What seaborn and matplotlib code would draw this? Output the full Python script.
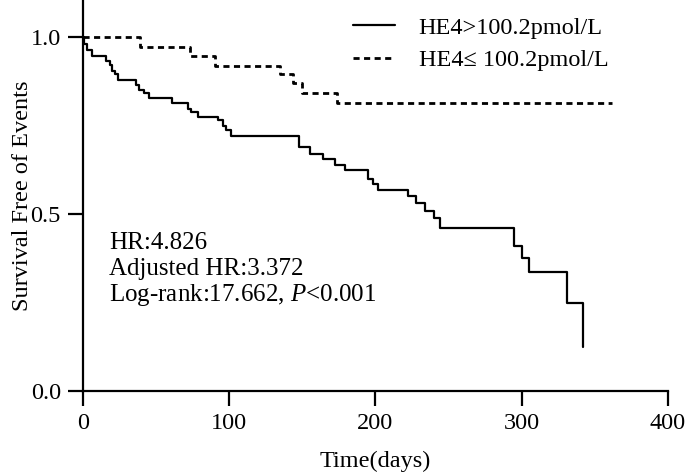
import numpy as np
import pandas as pd
import seaborn as sns
import matplotlib.pyplot as plt

# Kaplan-Meier step points (time in days, survival)
high_time = [0, 1, 2.5, 6, 16, 18.5, 20, 22, 24, 36, 38, 42, 45, 61, 72, 74, 78.5,
             92, 96, 98, 101, 148, 155, 164, 172, 179, 195, 198, 202,
             222, 228, 234, 240, 244, 295, 300, 305, 331, 342]
high_surv = [1.0, 0.981, 0.965, 0.946, 0.933, 0.921, 0.905, 0.895, 0.880, 0.864, 0.850, 0.841, 0.827,
             0.815, 0.798, 0.789, 0.775, 0.766, 0.749, 0.737, 0.722, 0.690, 0.671, 0.657,
             0.640, 0.624, 0.600, 0.585, 0.568, 0.550, 0.530, 0.510, 0.490, 0.460,
             0.410, 0.375, 0.336, 0.250, 0.125]

low_time = [0, 39, 73, 90, 135, 143.5, 150, 174, 362]
low_surv = [1.0, 0.973, 0.946, 0.919, 0.895, 0.870, 0.842, 0.814, 0.814]

labels = ['HE4>100.2pmol/L', 'HE4\u2264 100.2pmol/L']
x_ticks = [0, 100, 200, 300, 400]
y_ticks = [0.0, 0.5, 1.0]
stats_lines = ['HR:4.826', 'Adjusted HR:3.372', 'Log-rank:17.662, $\\mathit{P}$<0.001']

sns.set_theme(style='ticks')
plt.rcParams['font.family'] = ['Liberation Serif', 'DejaVu Serif']
plt.rcParams['mathtext.fontset'] = 'custom'
plt.rcParams['mathtext.rm'] = 'Liberation Serif'
plt.rcParams['mathtext.it'] = 'Liberation Serif:italic'
plt.rcParams['text.color'] = 'black'
plt.rcParams['axes.labelcolor'] = 'black'

high_df = pd.DataFrame({'Time': high_time, 'Survival': high_surv})
low_df = pd.DataFrame({'Time': low_time, 'Survival': low_surv})

fig = plt.figure(figsize=(6.85, 4.73), dpi=100)
ax = fig.add_axes([0.1212, 0.1734, 0.8538, 0.8266])

sns.lineplot(data=high_df, x='Time', y='Survival', ax=ax, color='black',
             linewidth=1.6, drawstyle='steps-post', estimator=None, sort=False,
             label=labels[0])
sns.lineplot(data=low_df, x='Time', y='Survival', ax=ax, color='black',
             linewidth=2.0, drawstyle='steps-post', estimator=None, sort=False,
             linestyle=(0, (2.2, 1.6)), label=labels[1])

ax.set_xlim(0, 400)
ax.set_ylim(0, 1.105)
ax.set_xticks(x_ticks)
ax.set_yticks(y_ticks)
ax.set_yticklabels([f'{v:.1f}' for v in y_ticks])
ax.tick_params(axis='both', direction='out', length=11, width=1.6,
               labelsize=17.5, colors='black', pad=5)
for side in ['left', 'bottom']:
    ax.spines[side].set_linewidth(1.6)
    ax.spines[side].set_color('black')
sns.despine(ax=ax)

ax.set_xlabel('Time(days)', fontsize=17.5, labelpad=12)
ax.set_ylabel('Survival Free of Events', fontsize=17.5, labelpad=-2)

for y, line in zip([0.418, 0.345, 0.271], stats_lines):
    ax.text(17.8, y, line, fontsize=18, va='center', ha='left')

ax.legend(loc='upper left', bbox_to_anchor=(0.4615, 0.957), frameon=False,
          fontsize=17.5, handlelength=1.75, handletextpad=0.95, labelspacing=0.43,
          borderpad=0, borderaxespad=0)

plt.savefig('out.png', dpi=100)
